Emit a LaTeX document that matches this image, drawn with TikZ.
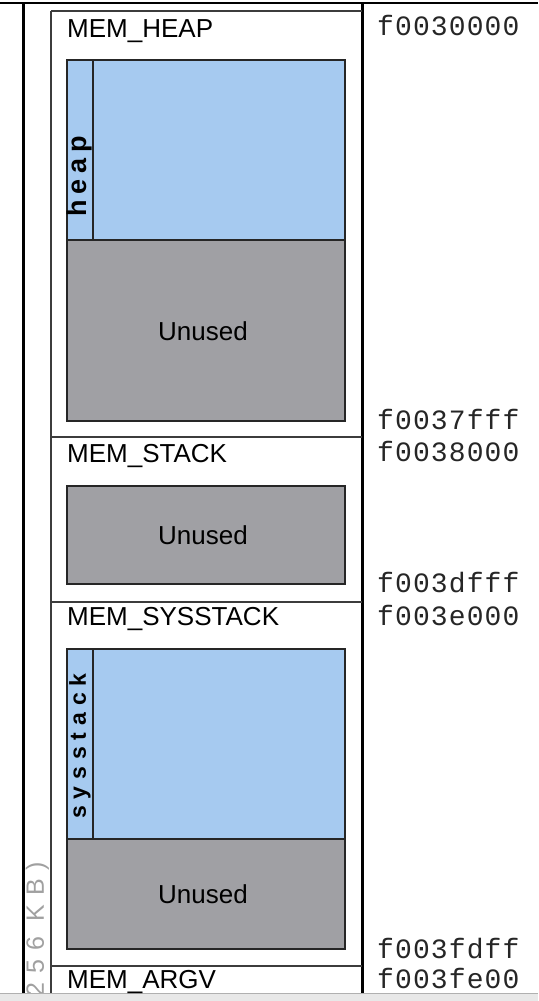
\documentclass[tikz,border=0pt]{standalone}
\usepackage{fontspec}
\setmainfont{Liberation Sans}
\newfontfamily\addrfont{Liberation Mono}
\definecolor{skyblue}{RGB}{166,202,240}
\definecolor{wgray}{RGB}{160,160,164}
\definecolor{linegray}{RGB}{60,60,60}
\definecolor{kbgray}{RGB}{160,160,160}
\definecolor{barfill}{RGB}{232,232,232}
\definecolor{barline}{RGB}{176,176,176}
\tikzset{
  outer/.style={line width=3pt,black},
  secline/.style={line width=1.8pt,linegray},
  boxline/.style={line width=1.3pt,draw=black!85},
  usedbox/.style={boxline,fill=skyblue},
  unusedbox/.style={boxline,fill=wgray},
  seclabel/.style={inner sep=0pt,anchor=base west,font=\fontsize{26}{30}\selectfont},
  addr/.style={inner sep=0pt,anchor=base west,text=black!85,font=\addrfont\addfontfeature{LetterSpace=4}\fontsize{28}{32}\selectfont},
  unusedlabel/.style={inner sep=0pt,font=\fontsize{26}{30}\selectfont},
  vlabel/.style={inner sep=0pt,rotate=90}
}
\begin{document}
\begin{tikzpicture}[x=1pt,y=-1pt]
\useasboundingbox (0,0) rectangle (538,1001);
% bottom bar
\fill[barfill] (0,993.5) rectangle (538,1001);
\draw[barline,line width=1pt] (0,993.5) -- (538,993.5);
% outer frame lines
\draw[outer,line width=2.5pt] (0,3) -- (538,3);
\draw[outer] (23.5,3) -- (23.5,993);
\draw[outer] (362.5,3) -- (362.5,993);
\draw[secline] (51,11) -- (51,993);
% section separators
\draw[secline] (51,11) -- (362,11);
\draw[secline] (51,437) -- (362,437);
\draw[secline] (51,602) -- (362,602);
\draw[secline] (51,966) -- (362,966);
% MEM_HEAP
\draw[usedbox] (67,60) rectangle (345,240);
\draw[boxline] (93,60) -- (93,240);
\draw[unusedbox] (67,240) rectangle (345,421);
% MEM_STACK
\draw[unusedbox] (67,486) rectangle (345,584);
% MEM_SYSSTACK
\draw[usedbox] (67,649) rectangle (345,839);
\draw[boxline] (93,649) -- (93,839);
\draw[unusedbox] (67,839) rectangle (345,949);
% section labels
\node[seclabel] (lheap) at (67,37) {MEM\_HEAP};
\node[seclabel] (lstack) at (67,462) {MEM\_STACK};
\node[seclabel] (lsys) at (67,625) {MEM\_SYSSTACK};
\node[seclabel] (largv) at (67,988) {MEM\_ARGV};
% unused labels
\node[unusedlabel] (u1) at (203,331) {Unused};
\node[unusedlabel] (u2) at (203,535) {Unused};
\node[unusedlabel] (u3) at (203,894) {Unused};
% vertical labels
\node[vlabel,font=\bfseries\addfontfeature{LetterSpace=22}\fontsize{27}{30}\selectfont] (vheap) at (80,176) {heap};
\node[vlabel,font=\bfseries\addfontfeature{LetterSpace=30}\fontsize{23}{26}\selectfont] (vsys) at (80,746) {sysstack};
% size label (clipped)
\begin{scope}
\clip (0,0) rectangle (538,992.5);
\node[inner sep=0pt,rotate=90,anchor=east,text=kbgray,font=\addfontfeature{LetterSpace=35}\fontsize{25}{28}\selectfont] (ksize) at (37.5,862) {256 KB)};
\end{scope}
% addresses
\node[addr] (a1) at (377,35) {f0030000};
\node[addr] (a2) at (377,429) {f0037fff};
\node[addr] (a3) at (377,461) {f0038000};
\node[addr] (a4) at (377,592) {f003dfff};
\node[addr] (a5) at (377,625) {f003e000};
\node[addr] (a6) at (377,958) {f003fdff};
\node[addr] (a7) at (377,988) {f003fe00};
\end{tikzpicture}
\end{document}
